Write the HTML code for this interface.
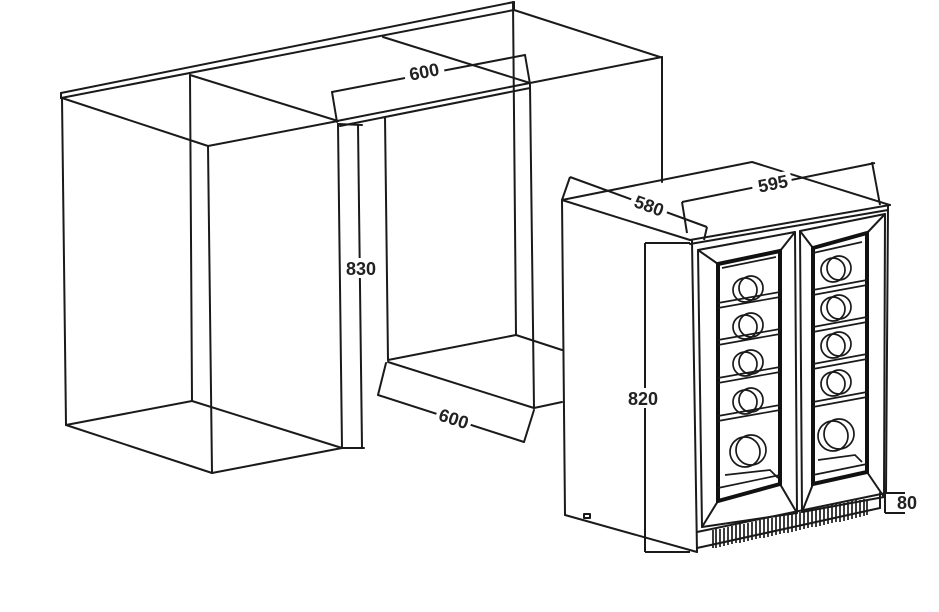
<!DOCTYPE html>
<html><head><meta charset="utf-8"><style>
html,body{margin:0;padding:0;background:#fff;}
svg{display:block;}
text{font-family:"Liberation Sans",sans-serif;font-size:18px;fill:#222;font-weight:bold;}
</style></head><body>
<svg width="939" height="612" viewBox="0 0 939 612" xmlns="http://www.w3.org/2000/svg">
<g stroke="#1a1a1a" stroke-width="2" fill="none" stroke-linecap="round" stroke-linejoin="round">
<line x1="61" y1="93" x2="514" y2="2"/>
<line x1="61" y1="98" x2="514" y2="10"/>
<line x1="61" y1="93" x2="61" y2="98"/>
<line x1="514" y1="2" x2="514" y2="10"/>
<line x1="514" y1="10" x2="660" y2="57"/>
<line x1="662" y1="57" x2="662" y2="182"/>
<line x1="530" y1="83" x2="662" y2="57"/>
<line x1="62" y1="98" x2="208" y2="146"/>
<line x1="190" y1="75" x2="338" y2="121"/>
<line x1="208" y1="146" x2="338" y2="121"/>
<line x1="62" y1="98" x2="66" y2="425"/>
<line x1="190" y1="75" x2="192" y2="401"/>
<line x1="208" y1="146" x2="212" y2="473"/>
<line x1="66" y1="425" x2="212" y2="473"/>
<line x1="212" y1="473" x2="342" y2="448"/>
<line x1="66" y1="425" x2="192" y2="401"/>
<line x1="192" y1="401" x2="342" y2="448"/>
<line x1="383" y1="37" x2="530" y2="83"/>
<line x1="337" y1="121" x2="530" y2="83"/>
<line x1="340" y1="126" x2="530" y2="88"/>
<line x1="338" y1="124" x2="342" y2="448"/>
<line x1="358" y1="125" x2="362" y2="448"/>
<line x1="338" y1="124" x2="362" y2="125"/>
<line x1="342" y1="448" x2="364" y2="448"/>
<line x1="385" y1="117" x2="388" y2="360"/>
<line x1="513" y1="2" x2="516" y2="335"/>
<line x1="530" y1="85" x2="534" y2="408"/>
<line x1="388" y1="360" x2="516" y2="335"/>
<line x1="516" y1="335" x2="562" y2="350"/>
<line x1="388" y1="362" x2="534" y2="408"/>
<line x1="534" y1="408" x2="562" y2="402"/>
<line x1="332" y1="92" x2="525" y2="55"/>
<line x1="332" y1="92" x2="337" y2="122"/>
<line x1="525" y1="55" x2="530" y2="84"/>
<line x1="378" y1="395" x2="524" y2="442"/>
<line x1="378" y1="395" x2="386" y2="363"/>
<line x1="524" y1="442" x2="534" y2="410"/>

<line x1="562" y1="200" x2="752" y2="162"/>
<line x1="752" y1="162" x2="890" y2="205"/>
<line x1="562" y1="200" x2="690" y2="240"/>
<line x1="690" y1="240" x2="890" y2="205"/>
<line x1="690" y1="244" x2="888" y2="210"/>
<line x1="562" y1="200" x2="565" y2="515"/>
<line x1="692" y1="241" x2="697" y2="552"/>
<line x1="565" y1="515" x2="697" y2="552"/>
<line x1="888" y1="206" x2="886" y2="493"/>
<line x1="697" y1="548" x2="880" y2="508"/>
<line x1="697" y1="532" x2="886" y2="493"/>
<line x1="880" y1="493" x2="880" y2="508"/>
<rect x="584" y="514" width="6" height="4"/>
<path d="M698 250 L795 232 L797 513 L702 527 Z"/>
<path d="M800 231 L885 214 L884 497 L802 512 Z"/>
<line x1="698" y1="250" x2="718" y2="264"/>
<line x1="795" y1="232" x2="780" y2="251"/>
<line x1="702" y1="527" x2="718" y2="501"/>
<line x1="797" y1="513" x2="780" y2="484"/>
<line x1="800" y1="231" x2="813" y2="248"/>
<line x1="885" y1="214" x2="867" y2="233"/>
<line x1="802" y1="512" x2="813" y2="484"/>
<line x1="884" y1="497" x2="867" y2="472"/>
</g>
<g stroke="#111" stroke-width="4" fill="none">
<path d="M718 264 L780 251 L780 484 L718 501 Z"/>
<path d="M813 248 L867 233 L867 472 L813 484 Z"/>
</g>
<g stroke="#1a1a1a" stroke-width="1.7" fill="none">
<path d="M718 303 L780 292 M718 308 L780 297"/>
<path d="M718 340 L780 329 M718 345 L780 334"/>
<path d="M718 378 L780 367 M718 383 L780 372"/>
<path d="M718 416 L780 405 M718 421 L780 410"/>
<path d="M718 488 L780 475"/>
<path d="M813 290 L867 280 M813 295 L867 285"/>
<path d="M813 327 L867 317 M813 332 L867 322"/>
<path d="M813 364 L867 354 M813 369 L867 359"/>
<path d="M813 402 L867 392 M813 407 L867 397"/>
<path d="M813 475 L867 464"/>
<path d="M722 268 L776 257 M813 253 L862 242"/>
<circle cx="745" cy="290" r="12"/><circle cx="751" cy="288" r="12"/>
<circle cx="745" cy="327" r="12"/><circle cx="751" cy="325" r="12"/>
<circle cx="745" cy="364" r="12"/><circle cx="751" cy="362" r="12"/>
<circle cx="745" cy="402" r="12"/><circle cx="751" cy="400" r="12"/>
<circle cx="745" cy="452" r="15"/><circle cx="751" cy="450" r="15"/>
<path d="M725 475 L770 470 L778 478"/>
<circle cx="833" cy="270" r="12"/><circle cx="839" cy="268" r="12"/>
<circle cx="833" cy="309" r="12"/><circle cx="839" cy="307" r="12"/>
<circle cx="833" cy="346" r="12"/><circle cx="839" cy="344" r="12"/>
<circle cx="833" cy="384" r="12"/><circle cx="839" cy="382" r="12"/>
<circle cx="833" cy="436" r="15"/><circle cx="839" cy="434" r="15"/>
<path d="M818 460 L855 455 L862 462"/>
<path d="M713 530 L713 548 M867 500 L867 515"/>
<path d="M716 529 L716 548 M720 529 L720 547 M724 528 L724 546 M728 527 L728 545 M732 526 L732 544 M736 525 L736 543 M740 524 L740 543 M744 524 L744 542 M748 523 L748 541 M752 522 L752 540 M756 521 L756 539 M760 520 L760 538 M764 519 L764 538 M768 518 L768 537 M772 518 L772 536 M776 517 L776 535 M780 516 L780 534 M784 515 L784 533 M788 514 L788 533 M792 514 L792 532 M796 513 L796 531 M800 512 L800 530 M804 511 L804 529 M808 510 L808 528 M812 509 L812 527 M816 508 L816 527 M820 508 L820 526 M824 507 L824 525 M828 506 L828 524 M832 505 L832 523 M836 504 L836 522 M840 503 L840 522 M844 503 L844 521 M848 502 L848 520 M852 501 L852 519 M856 500 L856 518 M860 500 L860 517 M864 499 L864 516"/>
</g>
<g stroke="#1a1a1a" stroke-width="2" fill="none">
<line x1="682" y1="202" x2="875" y2="163"/>
<line x1="682" y1="202" x2="687" y2="233"/>
<line x1="872" y1="162" x2="880" y2="205"/>
<line x1="570" y1="177" x2="707" y2="227"/>
<line x1="570" y1="177" x2="562" y2="200"/>
<line x1="707" y1="227" x2="704" y2="240"/>
<line x1="645" y1="243" x2="645" y2="552"/>
<line x1="645" y1="243" x2="690" y2="243"/>
<line x1="645" y1="552" x2="690" y2="552"/>
<line x1="885" y1="493" x2="905" y2="493"/>
<line x1="885" y1="513" x2="905" y2="513"/>
<line x1="885" y1="493" x2="885" y2="513"/>
</g>
<g>
<rect x="404" y="62" width="40" height="18" fill="#fff" transform="rotate(-11 424 71)"/>
<text x="424" y="78" text-anchor="middle" transform="rotate(-11 424 71)">600</text>
<rect x="344" y="258" width="34" height="20" fill="#fff"/>
<text x="361" y="275" text-anchor="middle">830</text>
<rect x="436" y="409" width="36" height="18" fill="#fff" transform="rotate(18 454 418)"/>
<text x="454" y="425" text-anchor="middle" transform="rotate(18 454 418)">600</text>
<rect x="630" y="196" width="38" height="18" fill="#fff" transform="rotate(20 649 206)"/>
<text x="649" y="212" text-anchor="middle" transform="rotate(20 649 206)">580</text>
<rect x="752" y="174" width="40" height="18" fill="#fff" transform="rotate(-11 772 184)"/>
<text x="773" y="190" text-anchor="middle" transform="rotate(-11 772 184)">595</text>
<rect x="626" y="388" width="36" height="20" fill="#fff"/>
<text x="643" y="405" text-anchor="middle">820</text>
<text x="907" y="509" text-anchor="middle">80</text>
</g>
</svg>
</body></html>
